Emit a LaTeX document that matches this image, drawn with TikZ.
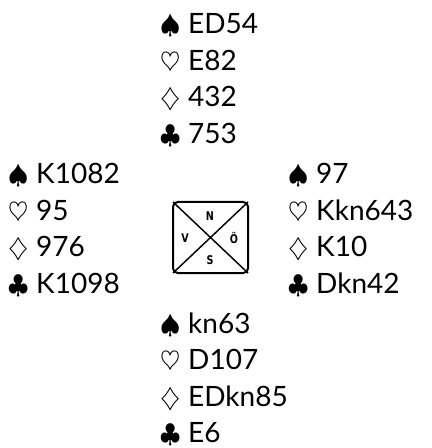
\documentclass[tikz,border=0pt]{standalone}
\usepackage{fix-cm}
\usepackage{fontspec}
\setmainfont{Lato}
\newfontfamily\seatfont{DejaVu Sans}[FakeStretch=0.8]
\begin{document}
\begin{tikzpicture}[x=0.75pt, y=-0.75pt,
  every node/.style={inner sep=0pt, outer sep=0pt},
  hand/.style={anchor=base west, font=\fontsize{21}{27}\selectfont},
  seat/.style={font=\seatfont\bfseries\fontsize{9}{10}\selectfont}]

  % --- Farbsymbole ---
  \def\suit#1{{\fontsize{19.5}{19.5}\selectfont$#1$}\hspace{6pt}}
  \def\Sp{\suit\spadesuit}
  \def\He{\suit\heartsuit}
  \def\Di{\suit\diamondsuit}
  \def\Cl{\suit\clubsuit}
  \def\pitch{36.5}

  \useasboundingbox (0,0) rectangle (431,448);

  % 1. Hände
  % Nord
  \foreach \txt [count=\i] in {\Sp ED54, \He E82, \Di 432, \Cl 753}
    \node[hand] (north\i) at (160, {34+\pitch*(\i-1)}) {\txt};
  % West
  \foreach \txt [count=\i] in {\Sp K1082, \He 95, \Di 976, \Cl K1098}
    \node[hand] (west\i) at (8, {184+\pitch*(\i-1)}) {\txt};
  % Ost
  \foreach \txt [count=\i] in {\Sp 97, \He Kkn643, \Di K10, \Cl Dkn42}
    \node[hand] (east\i) at (288, {184+\pitch*(\i-1)}) {\txt};
  % Süd
  \foreach \txt [count=\i] in {\Sp kn63, \He D107, \Di EDkn85, \Cl E6}
    \node[hand] (south\i) at (160, {333+\pitch*(\i-1)}) {\txt};

  % 2. Kompass in der Mitte
  \coordinate (nw) at (173,202);
  \coordinate (ne) at (248,202);
  \coordinate (sw) at (173,273);
  \coordinate (se) at (248,273);
  \draw[line width=1.5pt, rounded corners=3.5pt] (nw) rectangle (se);
  \draw[line width=1.1pt] (nw) -- (se);
  \draw[line width=1.1pt] (ne) -- (sw);

  % 3. Himmelsrichtungen
  \node[seat] (seatN) at (210,216) {N};
  \node[seat] (seatV) at (185,238) {V};
  \node[seat] (seatO) at (234,238) {Ö};
  \node[seat] (seatS) at (210,260) {S};

\end{tikzpicture}
\end{document}
